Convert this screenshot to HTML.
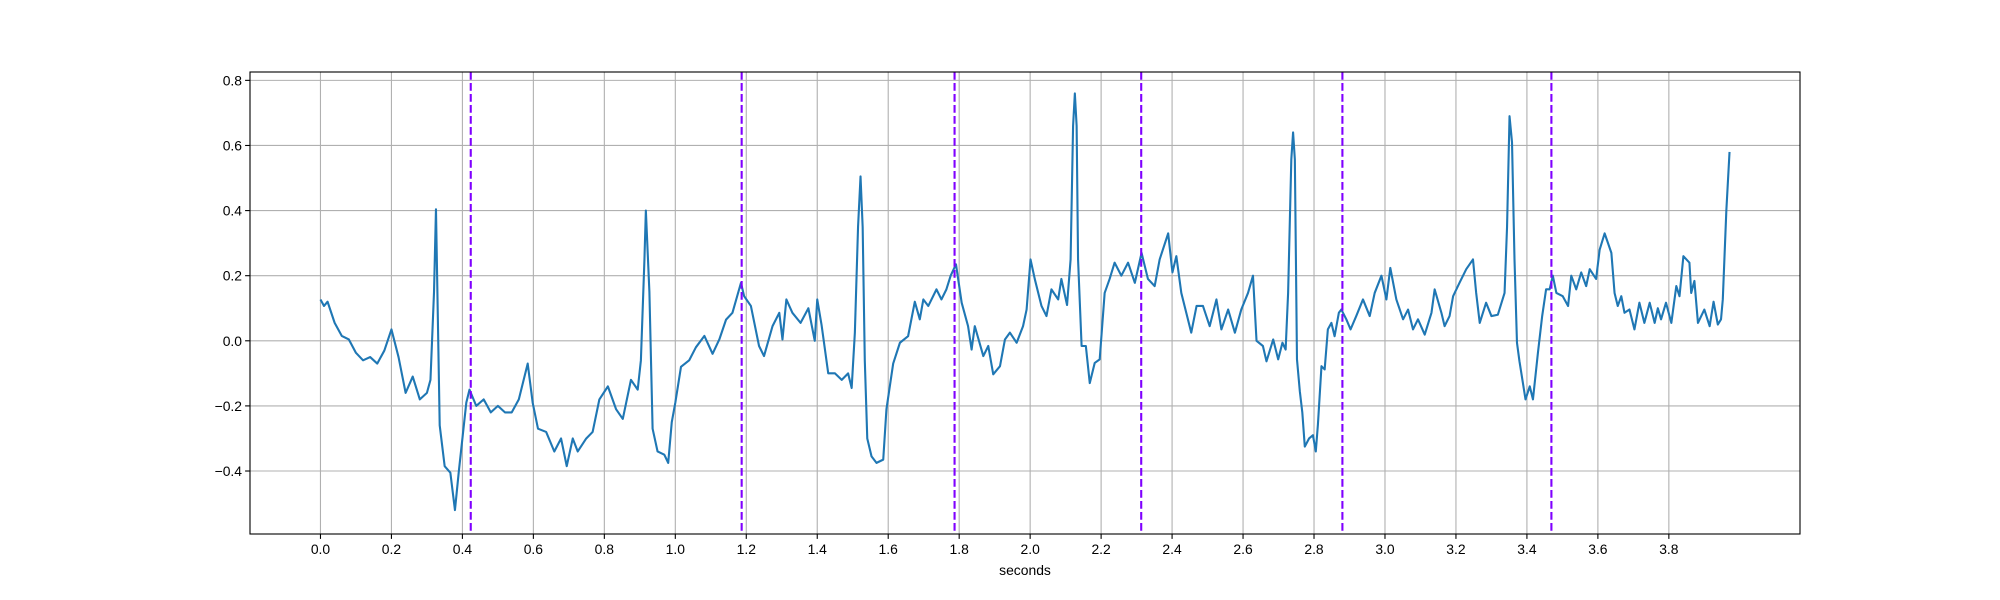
<!DOCTYPE html>
<html><head><meta charset="utf-8"><style>
html,body{margin:0;padding:0;background:#fff;}
svg{display:block;font-family:"Liberation Sans","DejaVu Sans",sans-serif;}
</style></head><body>
<svg id="chart" width="2000" height="600" viewBox="0 0 2000 600" xmlns="http://www.w3.org/2000/svg">
<rect width="2000" height="600" fill="#fff"/>
<g id="grid"></g>
<g id="series"></g>
<g id="vlines"></g>
<rect x="250" y="72" width="1550" height="462" fill="none" stroke="#000" stroke-width="1.1"/>
<g id="ticks"></g>
<text x="1025" y="575" text-anchor="middle" font-size="13.9">seconds</text>
</svg>
<script>
const times = [0,0.01,0.02,0.04,0.06,0.08,0.10,0.12,0.14,0.16,0.18,0.20,0.22,0.24,0.26,0.28,0.30,0.31,0.32,0.3255,0.336,0.35,0.366,0.379,0.39,0.401,0.411,0.42,0.439,0.46,0.48,0.50,0.52,0.539,0.559,0.584,0.598,0.613,0.636,0.659,0.678,0.694,0.711,0.725,0.749,0.767,0.786,0.81,0.833,0.852,0.875,0.894,0.903,0.913,0.917,0.927,0.936,0.950,0.969,0.980,0.990,1.0,1.016,1.039,1.058,1.082,1.105,1.124,1.143,1.161,1.185,1.194,1.213,1.236,1.250,1.274,1.293,1.302,1.313,1.330,1.353,1.375,1.393,1.400,1.412,1.431,1.450,1.469,1.487,1.497,1.506,1.515,1.522,1.528,1.534,1.541,1.553,1.567,1.586,1.595,1.614,1.633,1.656,1.675,1.689,1.699,1.713,1.736,1.750,1.764,1.776,1.791,1.807,1.825,1.835,1.844,1.868,1.882,1.896,1.915,1.929,1.943,1.962,1.980,1.990,2.001,2.013,2.032,2.046,2.060,2.079,2.088,2.104,2.114,2.121,2.126,2.131,2.135,2.145,2.157,2.168,2.182,2.196,2.210,2.224,2.238,2.257,2.276,2.295,2.314,2.332,2.351,2.365,2.389,2.401,2.412,2.426,2.440,2.454,2.469,2.487,2.506,2.525,2.539,2.558,2.577,2.595,2.614,2.628,2.638,2.656,2.666,2.685,2.699,2.711,2.720,2.727,2.736,2.741,2.746,2.752,2.760,2.767,2.774,2.786,2.797,2.805,2.811,2.821,2.830,2.839,2.849,2.858,2.870,2.877,2.891,2.903,2.919,2.938,2.957,2.971,2.990,3.004,3.015,3.032,3.051,3.065,3.079,3.093,3.112,3.131,3.140,3.159,3.168,3.182,3.192,3.210,3.229,3.248,3.257,3.267,3.285,3.300,3.318,3.337,3.344,3.351,3.358,3.365,3.372,3.379,3.396,3.408,3.417,3.431,3.443,3.454,3.464,3.473,3.483,3.501,3.516,3.525,3.539,3.553,3.567,3.577,3.595,3.605,3.619,3.638,3.647,3.656,3.666,3.675,3.689,3.703,3.717,3.731,3.746,3.760,3.769,3.778,3.792,3.807,3.821,3.830,3.841,3.858,3.863,3.872,3.882,3.900,3.915,3.926,3.938,3.947,3.952,3.962,3.971];
const values = [0.127,0.107,0.12,0.055,0.015,0.004,-0.037,-0.06,-0.05,-0.07,-0.03,0.035,-0.05,-0.16,-0.11,-0.18,-0.16,-0.12,0.15,0.404,-0.26,-0.385,-0.405,-0.52,-0.40,-0.29,-0.19,-0.15,-0.2,-0.18,-0.22,-0.20,-0.22,-0.22,-0.18,-0.07,-0.19,-0.27,-0.28,-0.34,-0.30,-0.385,-0.30,-0.34,-0.30,-0.28,-0.18,-0.14,-0.21,-0.24,-0.12,-0.15,-0.06,0.25,0.40,0.15,-0.27,-0.34,-0.35,-0.375,-0.25,-0.19,-0.08,-0.06,-0.02,0.015,-0.04,0.004,0.065,0.086,0.178,0.137,0.107,-0.016,-0.047,0.045,0.086,0.004,0.127,0.086,0.055,0.10,0,0.127,0.05,-0.10,-0.10,-0.12,-0.10,-0.145,0.025,0.35,0.505,0.35,-0.06,-0.30,-0.355,-0.375,-0.365,-0.21,-0.07,-0.006,0.014,0.12,0.066,0.127,0.107,0.158,0.127,0.158,0.20,0.235,0.117,0.045,-0.027,0.045,-0.047,-0.016,-0.103,-0.078,0.004,0.025,-0.006,0.045,0.096,0.25,0.19,0.107,0.076,0.158,0.127,0.19,0.11,0.25,0.66,0.76,0.66,0.25,-0.016,-0.016,-0.13,-0.068,-0.057,0.147,0.19,0.24,0.20,0.24,0.178,0.27,0.19,0.168,0.25,0.33,0.21,0.26,0.147,0.086,0.025,0.107,0.107,0.045,0.127,0.035,0.096,0.025,0.096,0.147,0.20,0,-0.016,-0.063,0.004,-0.057,-0.006,-0.027,0.147,0.557,0.64,0.557,-0.057,-0.155,-0.22,-0.325,-0.30,-0.29,-0.34,-0.257,-0.078,-0.088,0.035,0.055,0.014,0.086,0.096,0.066,0.035,0.076,0.127,0.076,0.147,0.20,0.127,0.224,0.127,0.066,0.096,0.035,0.066,0.019,0.086,0.158,0.086,0.045,0.076,0.137,0.178,0.22,0.25,0.147,0.055,0.117,0.076,0.08,0.147,0.35,0.69,0.61,0.25,-0.006,-0.063,-0.18,-0.14,-0.18,-0.037,0.076,0.158,0.158,0.20,0.147,0.137,0.107,0.20,0.158,0.21,0.168,0.22,0.19,0.28,0.33,0.27,0.147,0.107,0.137,0.086,0.096,0.035,0.117,0.055,0.117,0.055,0.10,0.066,0.117,0.055,0.168,0.137,0.26,0.24,0.147,0.184,0.055,0.096,0.045,0.12,0.05,0.066,0.127,0.40,0.58];
const markers = [0.4235,1.187,1.787,2.313,2.880,3.469];
const xTicks = [0,0.2,0.4,0.6,0.8,1.0,1.2,1.4,1.6,1.8,2.0,2.2,2.4,2.6,2.8,3.0,3.2,3.4,3.6,3.8];
const yTicks = [-0.4,-0.2,0,0.2,0.4,0.6,0.8];

const NS = "http://www.w3.org/2000/svg";
const L=250,R=1800,T=72,B=534;
const xMin=-0.1986,xMax=4.1696,yMin=-0.5935,yMax=0.8257;
function sx(v){return L+(v-xMin)/(xMax-xMin)*(R-L);}
function sy(v){return B-(v-yMin)/(yMax-yMin)*(B-T);}
function mk(tag,attrs,parent){const e=document.createElementNS(NS,tag);for(const k in attrs)e.setAttribute(k,attrs[k]);parent.appendChild(e);return e;}
const grid=document.getElementById('grid'),ticks=document.getElementById('ticks');
xTicks.forEach(v=>{
  const x=sx(v);
  const g=mk('line',{x1:x,x2:x,y1:T,y2:B,stroke:'#b0b0b0','stroke-width':1.1},grid);
  
  
  const t=mk('line',{x1:x,x2:x,y1:B,y2:B+4.9,stroke:'#000','stroke-width':1.1},ticks);
  
  
  const lb=mk('text',{x:x,y:B+20,'text-anchor':'middle','font-size':13.9},ticks);
  lb.textContent=v.toFixed(1);
  
  
});
yTicks.forEach(v=>{
  const y=sy(v);
  const g=mk('line',{x1:L,x2:R,y1:y,y2:y,stroke:'#b0b0b0','stroke-width':1.1},grid);
  
  
  const t=mk('line',{x1:L-4.9,x2:L,y1:y,y2:y,stroke:'#000','stroke-width':1.1},ticks);
  
  
  const lb=mk('text',{x:L-8,y:y+5,'text-anchor':'end','font-size':13.9},ticks);
  lb.textContent=(v<0?'\u2212':'')+Math.abs(v).toFixed(1);
  
  
});
const pts=times.map((t,i)=>sx(t).toFixed(2)+','+sy(values[i]).toFixed(2)).join(' ');
const line=mk('polyline',{points:pts,fill:'none',stroke:'#1f77b4','stroke-width':2.1,'stroke-linejoin':'round'},document.getElementById('series'));


const vl=document.getElementById('vlines');
markers.forEach(m=>{
  const x=sx(m);
  const e=mk('line',{x1:x,x2:x,y1:T,y2:B,stroke:'#7f00ff','stroke-width':2.1,'stroke-dasharray':'7.7,3.3'},vl);
  
  
});
</script>
</body></html>
